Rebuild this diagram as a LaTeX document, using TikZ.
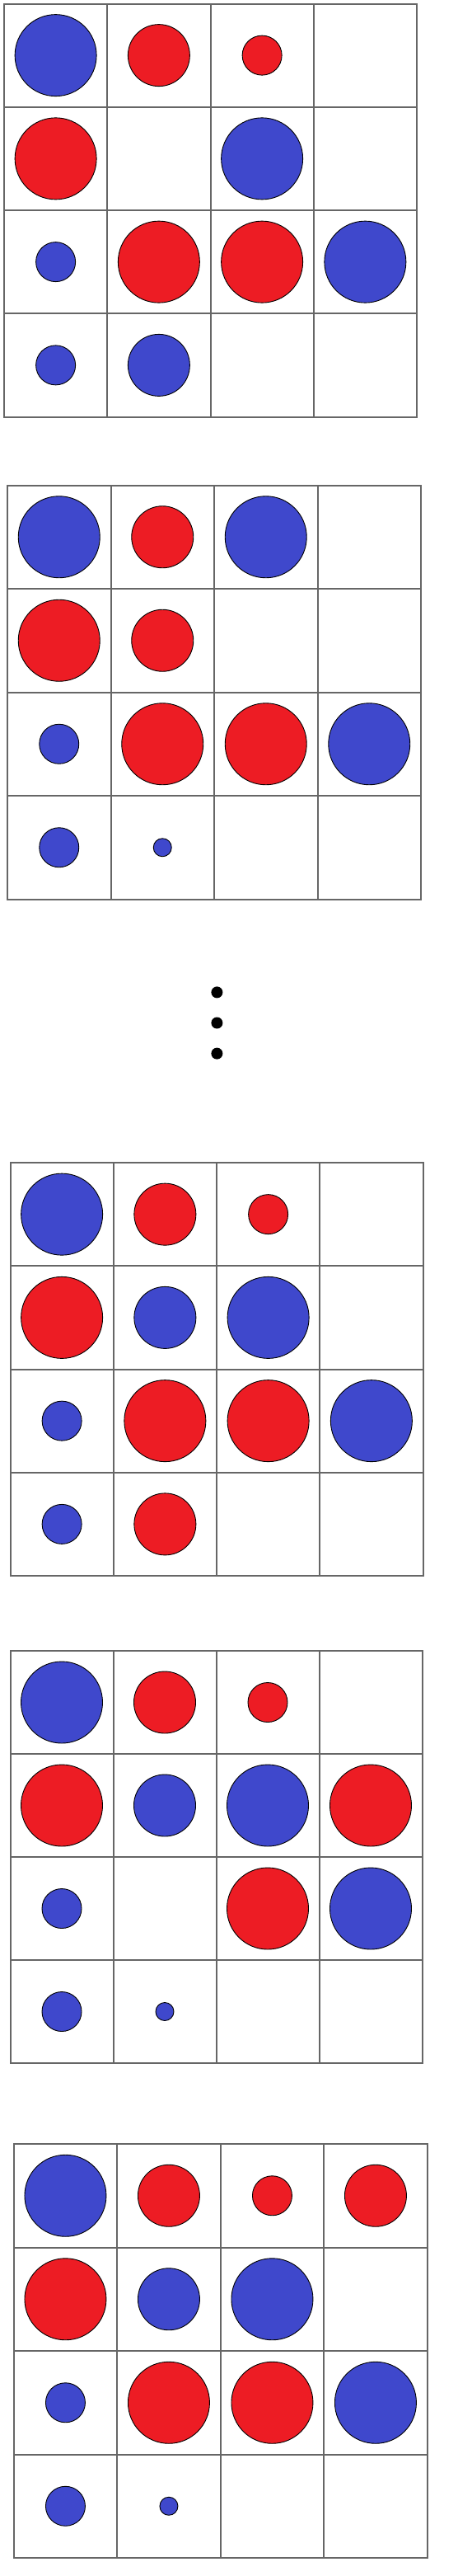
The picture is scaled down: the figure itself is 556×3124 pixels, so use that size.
\documentclass[tikz,border=0pt]{standalone}
\usetikzlibrary{shapes.geometric}
\definecolor{blu}{RGB}{63,72,204}
\definecolor{rd}{RGB}{237,28,36}
\definecolor{gridgray}{RGB}{102,102,102}
\tikzset{
  cellline/.style={draw=gridgray, line width=2pt, line cap=rect},
  disc/.style={circle, draw=black, line width=0.9pt, inner sep=0pt},
  dotmark/.style={circle, fill=black, inner sep=0pt, minimum size=14pt}
}
% #1 name, #2 x0, #3 y0, #4 side, #5 list row/col/diameter/colour
\newcommand{\mygrid}[5]{%
  \foreach \r/\c/\d/\f in {#5} {
    \node[disc, minimum size=\d pt, fill=\f] (#1-\r-\c) at ({#2+(\c+0.5)*#4/4},{#3+(\r+0.5)*#4/4}) {};
  }
  \foreach \i in {0,...,4} {
    \draw[cellline] ({#2+\i*#4/4},#3) -- ({#2+\i*#4/4},{#3+#4});
    \draw[cellline] (#2,{#3+\i*#4/4}) -- ({#2+#4},{#3+\i*#4/4});
  }
}
\begin{document}
\begin{tikzpicture}[x=1pt,y=-1pt]
\useasboundingbox[fill=white] (0,0) rectangle (556,3124);
% grid 1
\mygrid{ga}{5}{4.5}{501}{0/0/99/blu,0/1/75/rd,0/2/48/rd,
  1/0/99/rd,1/2/99/blu,
  2/0/48/blu,2/1/99/rd,2/2/99/rd,2/3/99/blu,
  3/0/48/blu,3/1/75/blu}
% grid 2
\mygrid{gb}{9}{588.5}{502}{0/0/99/blu,0/1/75/rd,0/2/99/blu,
  1/0/99/rd,1/1/75/rd,
  2/0/48/blu,2/1/99/rd,2/2/99/rd,2/3/99/blu,
  3/0/48/blu,3/1/22/blu}
% dots
\node[dotmark] (d1) at (263.4,1203.4) {};
\node[dotmark] (d2) at (263.4,1240.5) {};
\node[dotmark] (d3) at (263.4,1277.6) {};
% grid 3
\mygrid{gc}{12.5}{1410}{501}{0/0/99/blu,0/1/75/rd,0/2/48/rd,
  1/0/99/rd,1/1/75/blu,1/2/99/blu,
  2/0/48/blu,2/1/99/rd,2/2/99/rd,2/3/99/blu,
  3/0/48/blu,3/1/75/rd}
% grid 4
\mygrid{gd}{12.5}{2002}{500}{0/0/99/blu,0/1/75/rd,0/2/48/rd,
  1/0/99/rd,1/1/75/blu,1/2/99/blu,1/3/99/rd,
  2/0/48/blu,2/2/99/rd,2/3/99/blu,
  3/0/48/blu,3/1/22/blu}
% grid 5
\mygrid{ge}{16.7}{2600}{502}{0/0/99/blu,0/1/75/rd,0/2/48/rd,0/3/75/rd,
  1/0/99/rd,1/1/75/blu,1/2/99/blu,
  2/0/48/blu,2/1/99/rd,2/2/99/rd,2/3/99/blu,
  3/0/48/blu,3/1/22/blu}
\end{tikzpicture}
\end{document}
